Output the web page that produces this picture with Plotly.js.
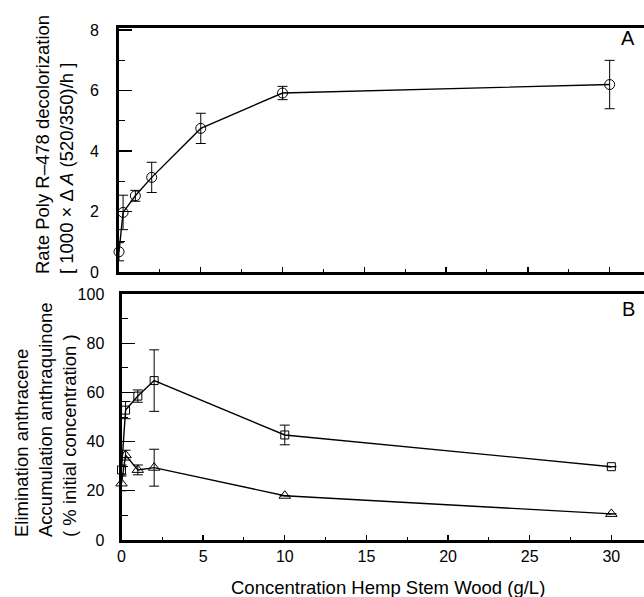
<!DOCTYPE html>
<html>
<head>
<meta charset="utf-8">
<script src="https://cdn.plot.ly/plotly-3.0.1.min.js"></script>
<style>html,body{margin:0;padding:0;background:#fff;}#chart{width:644px;height:597px;}</style>
</head>
<body>
<div id="chart"></div>
<script>
// Panel A: rate of Poly R-478 decolorization
const concA = [0, 0.25, 1, 2, 5, 10, 30];
const rateA = [0.67, 1.97, 2.52, 3.13, 4.75, 5.92, 6.2];
const rateErrA = [0.3, 0.57, 0.18, 0.5, 0.5, 0.22, 0.8];

// Panel B
const concB = [0, 0.25, 1, 2, 10, 30];
const anthraquinone = [28.5, 52.8, 58.5, 64.8, 42.7, 29.8];
const anthraquinoneErr = [2, 3.5, 2.5, 12.5, 4, 0];
const anthracene = [23, 34.5, 28.5, 29.4, 18, 10.6];
const anthraceneErr = [3, 2, 2, 7.5, 0, 0];

const xTicksB = [0, 5, 10, 15, 20, 25, 30];
const yTicksA = [0, 2, 4, 6, 8];
const yTicksB = [0, 20, 40, 60, 80, 100];

const W = 644, H = 597;
const px = v => v / W;
const py = v => 1 - v / H;
const FONT = 'Liberation Sans, Arial, Helvetica, sans-serif';

function errY(arr) {
  return {type: 'data', array: arr, visible: true, color: '#000', thickness: 1, width: 5};
}

const traces = [
  {x: concA, y: rateA, xaxis: 'x2', yaxis: 'y2', type: 'scatter', mode: 'lines+markers',
   name: 'Poly R-478', cliponaxis: false,
   line: {color: '#000', width: 1.4},
   marker: {symbol: 'circle-open', size: 10, color: '#000', line: {width: 1, color: '#000'}},
   error_y: errY(rateErrA)},
  {x: concB, y: anthraquinone, xaxis: 'x', yaxis: 'y', type: 'scatter', mode: 'lines+markers',
   name: 'Accumulation anthraquinone', cliponaxis: false,
   line: {color: '#000', width: 1.4},
   marker: {symbol: 'square-open', size: 8, color: '#000', line: {width: 1, color: '#000'}},
   error_y: errY(anthraquinoneErr)},
  {x: concB, y: anthracene, xaxis: 'x', yaxis: 'y', type: 'scatter', mode: 'lines+markers',
   name: 'Elimination anthracene', cliponaxis: false,
   line: {color: '#000', width: 1.4},
   marker: {symbol: 'triangle-up-open', size: 10, color: '#000', line: {width: 1, color: '#000'}},
   error_y: errY(anthraceneErr)}
];

const axCommon = {
  showgrid: false, zeroline: false, showline: true, linecolor: '#000', linewidth: 3,
  ticks: 'inside', tickcolor: '#000', tickwidth: 1.3,
  tickfont: {family: FONT, size: 16, color: '#000'}, fixedrange: true
};

const layout = {
  width: W, height: H,
  margin: {l: 0, r: 0, t: 0, b: 0, pad: 0},
  paper_bgcolor: '#fff', plot_bgcolor: '#fff',
  showlegend: false,
  font: {family: FONT, color: '#000'},
  xaxis: Object.assign({}, axCommon, {
    domain: [px(121.5), 1], range: [0, 32], anchor: 'y', mirror: true,
    tickmode: 'array', tickvals: xTicksB, ticktext: xTicksB.map(String),
    ticklen: 5, minor: {ticks: 'inside', dtick: 2.5, ticklen: 3, tickcolor: '#000', tickwidth: 1}
  }),
  yaxis: Object.assign({}, axCommon, {
    domain: [py(540), py(294)], range: [0, 100], anchor: 'x', mirror: false,
    tickmode: 'array', tickvals: yTicksB, ticktext: yTicksB.map(String),
    ticklen: 13, ticklabelstandoff: 11,
    minor: {ticks: 'inside', dtick: 10, ticklen: 6, tickcolor: '#000', tickwidth: 1}
  }),
  xaxis2: Object.assign({}, axCommon, {
    domain: [px(119), 1], range: [0, 32.1], anchor: 'y2', mirror: true,
    showticklabels: false, dtick: 5, tick0: 0,
    ticklen: 5, minor: {ticks: 'inside', dtick: 2.5, ticklen: 3, tickcolor: '#000', tickwidth: 1}
  }),
  yaxis2: Object.assign({}, axCommon, {
    domain: [py(272), py(28)], range: [0, 8.07], anchor: 'x2', mirror: false,
    tickmode: 'array', tickvals: yTicksA, ticktext: yTicksA.map(String),
    ticklen: 13, ticklabelstandoff: 14,
    minor: {ticks: 'inside', dtick: 1, ticklen: 6, tickcolor: '#000', tickwidth: 1}
  }),
  annotations: [
    {xref: 'paper', yref: 'paper', x: px(54), y: py(145), xanchor: 'center', yanchor: 'middle',
     textangle: -90, align: 'left', showarrow: false,
     font: {family: FONT, size: 18.5, color: '#000'},
     text: 'Rate Poly R–478 decolorization<br>[ 1000 × Δ <i>A</i> (520/350)/h ]'},
    {xref: 'paper', yref: 'paper', x: px(45), y: py(420), xanchor: 'center', yanchor: 'middle',
     textangle: -90, align: 'left', showarrow: false,
     font: {family: FONT, size: 18.5, color: '#000'},
     text: 'Elimination anthracene<br>Accumulation anthraquinone<br>( % initial concentration )'},
    {xref: 'paper', yref: 'paper', x: px(388), y: py(587), xanchor: 'center', yanchor: 'middle',
     showarrow: false, font: {family: FONT, size: 18.5, color: '#000'},
     text: 'Concentration Hemp Stem Wood (g/L)'},
    {xref: 'paper', yref: 'paper', x: px(627.5), y: py(38), xanchor: 'center', yanchor: 'middle',
     showarrow: false, font: {family: FONT, size: 20, color: '#000'}, text: 'A'},
    {xref: 'paper', yref: 'paper', x: px(628), y: py(309), xanchor: 'center', yanchor: 'middle',
     showarrow: false, font: {family: FONT, size: 20, color: '#000'}, text: 'B'}
  ]
};

Plotly.newPlot('chart', traces, layout, {displayModeBar: false, staticPlot: true});
</script>
</body>
</html>
